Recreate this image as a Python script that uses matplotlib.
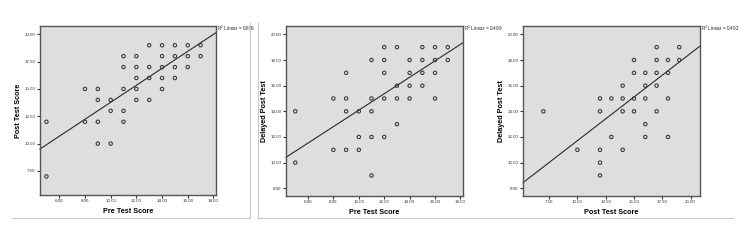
import numpy as np
import matplotlib
matplotlib.use("Agg")
import matplotlib.pyplot as plt
from matplotlib.lines import Line2D
from matplotlib.ticker import FormatStrFormatter

# ---- data ----
pre_1 = [5, 5, 8, 8, 9, 9, 9, 9, 10, 10, 10, 11, 11, 11, 11, 11,
         12, 12, 12, 12, 12, 13, 13, 13, 13, 14, 14, 14, 14, 14,
         15, 15, 15, 15, 16, 16, 16, 17, 17]
post_1 = [12, 7, 15, 12, 15, 14, 12, 10, 14, 13, 10, 18, 17, 15, 13, 12,
          18, 17, 16, 15, 14, 19, 17, 16, 14, 19, 18, 17, 16, 15,
          19, 18, 17, 16, 19, 18, 17, 19, 18]

pre_2 = [5, 5, 8, 8, 9, 9, 9, 9, 10, 10, 10, 11, 11, 11, 11, 11,
         12, 12, 12, 12, 12, 13, 13, 13, 13, 14, 14, 14, 14,
         15, 15, 15, 15, 16, 16, 16, 16, 17, 17]
delayed_2 = [14, 10, 11, 15, 17, 15, 14, 11, 14, 12, 11, 18, 15, 14, 12, 9,
             19, 18, 17, 15, 12, 19, 16, 15, 13, 18, 17, 16, 15,
             19, 18, 17, 16, 19, 18, 17, 15, 19, 18]

post_3 = [7, 10, 12, 12, 12, 12, 12, 13, 13, 14, 14, 14, 14,
          15, 15, 15, 15, 16, 16, 16, 16, 16, 17, 17, 17, 17, 17,
          18, 18, 18, 18, 19, 19]
delayed_3 = [14, 11, 15, 14, 11, 10, 9, 15, 12, 16, 15, 14, 11,
             18, 17, 15, 14, 17, 16, 15, 13, 12, 19, 18, 17, 16, 14,
             18, 17, 15, 12, 19, 18]

# fit lines (intercept, slope) and R^2 as printed
fit_1 = (6.01, 0.777)
fit_2 = (7.68, 0.641)
fit_3 = (4.90, 0.681)
r2 = [0.659, 0.499, 0.492]

xlabels = ["Pre Test Score", "Pre Test Score", "Post Test Score"]
ylabels = ["Post Test Score", "Delayed Post Test", "Delayed Post Test"]
xticks = [[6, 8, 10, 12, 14, 16, 18], [6, 8, 10, 12, 14, 16, 18],
          [7.5, 10, 12.5, 15, 17.5, 20]]
yticks = [[7.5, 10, 12.5, 15, 17.5, 20], [8, 10, 12, 14, 16, 18, 20],
          [8, 10, 12, 14, 16, 18, 20]]
xlims = [(4.5, 18.2), (4.27, 18.2), (5.2, 20.83)]
ylims = [(5.3, 20.76), (7.4, 20.65), (7.4, 20.65)]

panels = [(pre_1, post_1, fit_1), (pre_2, delayed_2, fit_2),
          (post_3, delayed_3, fit_3)]

W, H = 750, 241
fig = plt.figure(figsize=(W / 100, H / 100), dpi=100)
fig.patch.set_facecolor("white")
plt.rcParams["font.family"] = ["Liberation Sans", "DejaVu Sans"]

# axes boxes in pixels: left, right, top, bottom
boxes = [(40, 216, 26, 195), (286, 463, 26, 196), (523, 700, 26, 196)]

edge = "#555555"
for i, ((x, y, (b0, b1)), (l, r, t, b)) in enumerate(zip(panels, boxes)):
    ax = fig.add_axes([l / W, (H - b) / H, (r - l) / W, (b - t) / H])
    ax.set_facecolor("#dedede")
    ax.scatter(x, y, s=6, facecolors="none", edgecolors="#333333",
               linewidths=0.75, zorder=3)
    xs = np.array(xlims[i])
    ax.plot(xs, b0 + b1 * xs, color="#2a2a2a", lw=0.8, zorder=2,
            clip_on=False)
    ax.set_xlim(*xlims[i])
    ax.set_ylim(*ylims[i])
    ax.set_xticks(xticks[i])
    ax.set_yticks(yticks[i])
    ax.xaxis.set_major_formatter(FormatStrFormatter("%.2f"))
    ax.yaxis.set_major_formatter(FormatStrFormatter("%.2f"))
    ax.tick_params(length=2, width=0.8, pad=1.2, labelsize=3.2,
                   color="#333333", labelcolor="#333333")
    for s in ax.spines.values():
        s.set_color(edge)
        s.set_linewidth(1.0)
    ax.set_xlabel(xlabels[i], fontsize=5.2, fontweight="bold", labelpad=3)
    ax.set_ylabel(ylabels[i], fontsize=5.2, fontweight="bold", labelpad=2)
    ax.text(1.005, 0.985, f"R$^2$ Linear = {r2[i]:.3f}", transform=ax.transAxes,
            fontsize=3.3, ha="left", va="center", color="#222222")

# light frame lines around the pasted panels
grey = "#c8c8c8"
def fline(xs, ys):
    fig.add_artist(Line2D([v / W for v in xs], [1 - v / H for v in ys],
                          color=grey, lw=0.8))

fline([12, 250], [218, 218])
fline([250, 250], [23, 218])
fline([258, 258], [23, 218])
fline([258, 733], [218, 218])

fig.savefig("out.png", dpi=100)
